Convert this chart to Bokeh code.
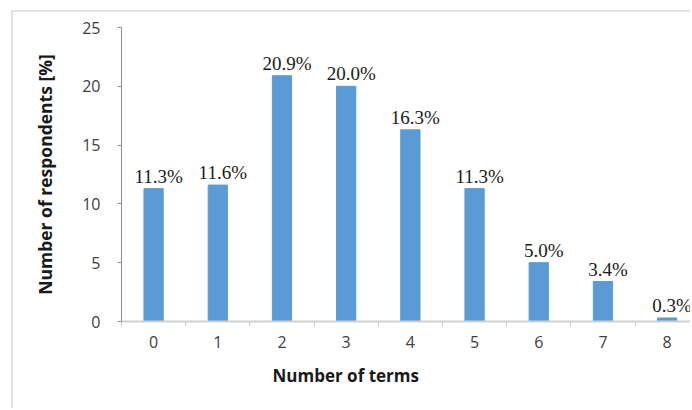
from bokeh.plotting import figure
from bokeh.models import ColumnDataSource, FixedTicker, Range1d, Title
from bokeh.core.properties import value
from bokeh.embed import file_html
from bokeh.resources import INLINE

terms = [0, 1, 2, 3, 4, 5, 6, 7, 8]
respondents = [11.3, 11.6, 20.9, 20.0, 16.3, 11.3, 5.0, 3.4, 0.3]
labels = ["11.3%", "11.6%", "20.9%", "20.0%", "16.3%", "11.3%", "5.0%", "3.4%", "0.3%"]
y_ticks = [0, 5, 10, 15, 20, 25]
x_title = "Number of terms"
y_title = "Number of respondents [%]"

src = ColumnDataSource(dict(x=terms, y=respondents, lab=labels))

p = figure(width=679, height=398, output_backend="svg", toolbar_location=None,
           x_range=Range1d(-0.5, 8.395), y_range=Range1d(0, 25),
           min_border_left=108, min_border_right=0, min_border_top=15, min_border_bottom=89)
p.margin = (10, 0, 0, 11)
p.styles = {"border-left": "2px solid #e4e4e4", "border-top": "2px solid #e4e4e4"}
p.outline_line_color = None
p.background_fill_color = "white"
p.border_fill_color = "white"
p.grid.visible = False

p.vbar(x="x", top="y", width=0.3, source=src, color="#5b9bd5")
p.text(x="x", y="y", text="lab", source=src, text_align="center", text_baseline="bottom",
       x_offset=5, y_offset=-2, text_font=value("Liberation Serif"), text_font_size="19px",
       text_color="#1a1a1a")

xa = p.xaxis[0]
xa.ticker = FixedTicker(ticks=terms, minor_ticks=[t - 0.5 for t in terms] + [8.5])
xa.major_tick_line_color = None
xa.minor_tick_in = 0
xa.minor_tick_out = 5
xa.minor_tick_line_color = "#d0d0d0"
xa.axis_line_color = "#d0d0d0"
xa.axis_line_width = 2
xa.major_label_text_font = "Open Sans"
xa.major_label_text_font_size = "16px"
xa.major_label_text_color = "#404040"
xa.major_label_standoff = 8

ya = p.yaxis[0]
ya.ticker = FixedTicker(ticks=y_ticks, minor_ticks=[])
ya.major_tick_in = 0
ya.major_tick_out = 4
ya.major_tick_line_color = "#8c8c8c"
ya.axis_line_color = "#8c8c8c"
ya.major_label_text_font = "Open Sans"
ya.major_label_text_font_size = "16px"
ya.major_label_text_color = "#404040"
ya.major_label_standoff = 17
ya.axis_label = y_title
ya.axis_label_text_font = "Open Sans"
ya.axis_label_text_font_style = "bold"
ya.axis_label_text_font_size = "17.5px"
ya.axis_label_text_color = "#1a1a1a"
ya.axis_label_standoff = 22

p.add_layout(Title(text=x_title, align="left", offset=151, standoff=23,
                   text_font="Open Sans", text_font_style="bold", text_font_size="17px",
                   text_color="#1a1a1a"), "below")

open("out.html", "w").write(file_html(p, INLINE))
